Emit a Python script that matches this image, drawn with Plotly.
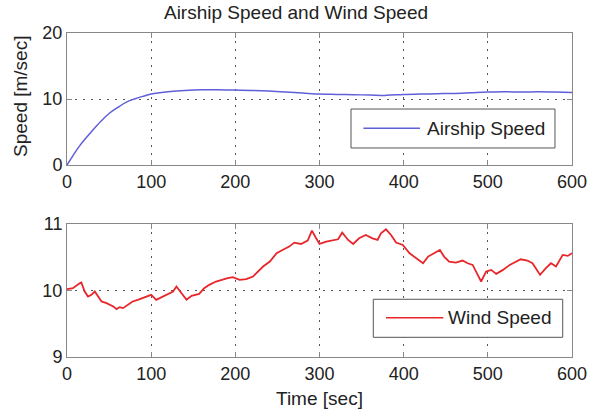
import plotly.graph_objects as go

# ---- data ----
airship_t = [0, 5, 10, 15, 20, 30, 40, 50, 60, 70, 80, 90, 100, 110, 120, 140, 160, 180,
             200, 220, 240, 260, 280, 300, 320, 340, 360, 380, 400, 420, 440, 460, 480,
             500, 520, 540, 560, 580, 600]
airship_v = [0, 1.0, 2.0, 2.9, 3.7, 5.2, 6.6, 7.8, 8.7, 9.5, 10.0, 10.4, 10.75, 10.95, 11.1,
             11.3, 11.4, 11.4, 11.35, 11.3, 11.2, 11.05, 10.9, 10.75, 10.7, 10.65, 10.6,
             10.55, 10.7, 10.75, 10.8, 10.85, 10.95, 11.05, 11.1, 11.05, 11.1, 11.05, 11.0]

wind_t = [0, 7, 15, 17, 21, 25, 29, 33, 37, 41, 47, 51, 55, 59, 62.5, 66.5, 72, 78, 84, 92,
          100, 106, 112, 120, 126, 130, 136, 142, 148, 157, 163, 169, 177, 185, 191, 197,
          205, 213, 221, 225, 233, 241, 249, 256, 264, 270, 278, 286, 291, 296, 300, 308,
          316, 322, 327, 334, 340, 347, 355, 363, 369, 373, 379, 385, 391, 399, 407, 415,
          423, 429, 437, 443, 448, 454, 462, 470, 476, 482, 488, 492, 498, 504, 510, 518,
          526, 533, 539, 547, 553, 557, 562, 569, 575, 581, 589, 595, 600]
wind_v = [10.02, 10.035, 10.11, 10.12, 9.985, 9.91, 9.935, 9.985, 9.91, 9.835, 9.81, 9.785,
          9.76, 9.72, 9.75, 9.735, 9.785, 9.835, 9.86, 9.9, 9.935, 9.86, 9.9, 9.95, 9.985,
          10.06, 9.96, 9.86, 9.92, 9.95, 10.035, 10.085, 10.135, 10.17, 10.185, 10.2, 10.16,
          10.17, 10.21, 10.26, 10.36, 10.435, 10.56, 10.61, 10.66, 10.72, 10.7, 10.75, 10.9,
          10.785, 10.7, 10.735, 10.75, 10.77, 10.87, 10.76, 10.7, 10.785, 10.835, 10.785,
          10.76, 10.86, 10.92, 10.835, 10.72, 10.685, 10.56, 10.485, 10.41, 10.51, 10.56,
          10.61, 10.51, 10.435, 10.42, 10.45, 10.41, 10.385, 10.235, 10.135, 10.285, 10.31,
          10.25, 10.31, 10.385, 10.435, 10.47, 10.45, 10.41, 10.335, 10.235, 10.335, 10.41,
          10.36, 10.535, 10.52, 10.56]

x_ticks = [0, 100, 200, 300, 400, 500, 600]
top_y_ticks = [0, 10, 20]
bottom_y_ticks = [9, 10, 11]

title_text = "Airship Speed and Wind Speed"
airship_name = "Airship Speed"
wind_name = "Wind Speed"
y_title = "Speed [m/sec]"
x_title = "Time [sec]"

BLUE = "#5f5fd8"
RED = "#e8262a"
FONT = "Liberation Sans, Arial, sans-serif"
TXT = "#222222"

fig = go.Figure()
fig.add_trace(go.Scatter(x=airship_t, y=airship_v, mode="lines", name=airship_name,
                         line=dict(color=BLUE, width=1.5, shape="spline"),
                         xaxis="x", yaxis="y", showlegend=False))
fig.add_trace(go.Scatter(x=wind_t, y=wind_v, mode="lines", name=wind_name,
                         line=dict(color=RED, width=1.8),
                         xaxis="x2", yaxis="y2", showlegend=False))

axis_common = dict(showline=True, linecolor="#888888", linewidth=1, mirror="ticks",
                   ticks="inside", ticklen=5, tickcolor="#888888",
                   showgrid=True, gridcolor="#555555", griddash="2px,6px", gridwidth=1,
                   zeroline=False, automargin=False,
                   tickfont=dict(family=FONT, size=18, color=TXT))

fig.update_layout(
    width=592, height=415,
    margin=dict(l=67, r=20, t=33, b=58),
    paper_bgcolor="white", plot_bgcolor="white",
    font=dict(family=FONT, color=TXT),
    title=dict(text=title_text, x=0.5, xanchor="center", y=0.971, yanchor="middle",
               font=dict(family=FONT, size=19, color=TXT)),
    xaxis=dict(domain=[0, 1], range=[0, 600], tickvals=x_ticks, anchor="y", **axis_common),
    yaxis=dict(domain=[0.5926, 1], range=[0, 20], tickvals=top_y_ticks, anchor="x",
               **axis_common),
    xaxis2=dict(domain=[0, 1], range=[0, 600], tickvals=x_ticks, anchor="y2",
                **axis_common),
    yaxis2=dict(domain=[0, 0.4105], range=[9, 11], tickvals=bottom_y_ticks, anchor="x2",
                **axis_common),
)

# axis titles placed as in the reference
fig.add_annotation(xref="paper", yref="paper", x=-0.0911, y=0.8056, text=y_title,
                   textangle=-90, showarrow=False, xanchor="center", yanchor="middle",
                   font=dict(family=FONT, size=19, color=TXT))
fig.add_annotation(xref="paper", yref="paper", x=0.5, y=-0.1287, text=x_title,
                   showarrow=False, xanchor="center", yanchor="middle",
                   font=dict(family=FONT, size=19, color=TXT))

# manual MATLAB-style legends
def add_legend(xref, yref, box, line_x, line_y, text_x, text, color):
    fig.add_shape(type="rect", xref=xref, yref=yref, x0=box[0], x1=box[1], y0=box[2], y1=box[3],
                  line=dict(color="#555555", width=1), fillcolor="white", layer="above")
    fig.add_shape(type="line", xref=xref, yref=yref, x0=line_x[0], x1=line_x[1], y0=line_y, y1=line_y,
                  line=dict(color=color, width=1.5), layer="above")
    fig.add_annotation(xref=xref, yref=yref, x=text_x, y=line_y, text=text, showarrow=False,
                       xanchor="left", yanchor="middle",
                       font=dict(family=FONT, size=19, color=TXT))

add_legend("x domain", "y domain", (0.5624, 0.9663, 0.129, 0.424), (0.5869, 0.6990), 0.278,
           0.708, airship_name, BLUE)
add_legend("x2 domain", "y2 domain", (0.6065, 0.9816, 0.148, 0.434), (0.6317, 0.7452), 0.2955,
           0.751, wind_name, RED)

fig.write_html("out.html", config={"displayModeBar": False},
               post_script="document.body.style.margin='0px';")
